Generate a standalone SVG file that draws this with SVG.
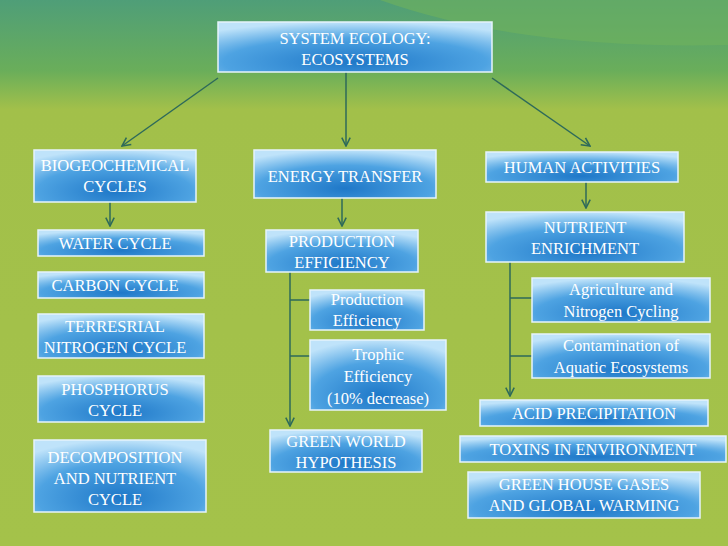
<svg xmlns="http://www.w3.org/2000/svg" width="728" height="546" viewBox="0 0 728 546">
<defs>
<linearGradient id="bg" x1="0" y1="0" x2="0" y2="1">
<stop offset="0" stop-color="#4f9e78"/><stop offset="0.13" stop-color="#6aae5a"/><stop offset="0.2" stop-color="#a2c04a"/><stop offset="1" stop-color="#a4c24a"/>
</linearGradient>
<radialGradient id="bx" cx="0.5" cy="0.8" r="0.8">
<stop offset="0" stop-color="#1f78c8"/><stop offset="0.6" stop-color="#4ea3e2"/><stop offset="1" stop-color="#bfe3fa"/>
</radialGradient>
<marker id="ar" viewBox="0 0 10 10" refX="9" refY="5" markerWidth="7" markerHeight="7" orient="auto"><path d="M1,1 L9,5 L1,9" fill="none" stroke="#2e6a5a" stroke-width="1.5"/></marker>
<style>
.b{fill:url(#bx);stroke:#e6f4fb;stroke-width:1.5}
text{font-family:"Liberation Serif",serif;fill:#fff;font-size:16.5px;text-anchor:middle}
.c{fill:none;stroke:#2e6a5a;stroke-width:1.5}
</style>
</defs>
<rect width="728" height="546" fill="url(#bg)"/>
<path d="M380,0 Q520,50 728,45 L728,0 Z" fill="#6fb25c" opacity="0.6"/>
<g id="connectors">
<path class="c" d="M218,78 L122,146" marker-end="url(#ar)"/>
<path class="c" d="M346,72 V146" marker-end="url(#ar)"/>
<path class="c" d="M492,78 L590,146" marker-end="url(#ar)"/>
<path class="c" d="M110,202 V226" marker-end="url(#ar)"/>
<path class="c" d="M342,198 V226" marker-end="url(#ar)"/>
<path class="c" d="M586,182 V208" marker-end="url(#ar)"/>
<path class="c" d="M290,272 V426" marker-end="url(#ar)"/>
<path class="c" d="M290,300 H310 M290,356 H310"/>
<path class="c" d="M510,262 V396" marker-end="url(#ar)"/>
<path class="c" d="M510,298 H532 M510,356 H532"/>
</g>
<g id="n0"><rect class="b" x="218" y="22" width="274" height="50"/><text x="355" y="44">SYSTEM ECOLOGY:</text><text x="355" y="65">ECOSYSTEMS</text></g>
<g id="n1"><rect class="b" x="34" y="150" width="162" height="52"/><text x="115" y="171">BIOGEOCHEMICAL</text><text x="115" y="192">CYCLES</text></g>
<g id="n2"><rect class="b" x="254" y="150" width="182" height="48"/><text x="345" y="182">ENERGY TRANSFER</text></g>
<g id="n3"><rect class="b" x="486" y="152" width="192" height="30"/><text x="582" y="173">HUMAN ACTIVITIES</text></g>
<g id="n4"><rect class="b" x="38" y="230" width="166" height="26"/><text x="115" y="249">WATER CYCLE</text></g>
<g id="n5"><rect class="b" x="38" y="272" width="166" height="26"/><text x="115" y="291">CARBON CYCLE</text></g>
<g id="n6"><rect class="b" x="38" y="314" width="166" height="44"/><text x="115" y="332">TERRESRIAL</text><text x="115" y="353">NITROGEN CYCLE</text></g>
<g id="n7"><rect class="b" x="38" y="376" width="166" height="46"/><text x="115" y="395">PHOSPHORUS</text><text x="115" y="416">CYCLE</text></g>
<g id="n8"><rect class="b" x="34" y="440" width="172" height="72"/><text x="115" y="463">DECOMPOSITION</text><text x="115" y="484">AND NUTRIENT</text><text x="115" y="505">CYCLE</text></g>
<g id="n9"><rect class="b" x="266" y="230" width="152" height="42"/><text x="342" y="247">PRODUCTION</text><text x="342" y="268">EFFICIENCY</text></g>
<g id="n10"><rect class="b" x="310" y="290" width="114" height="40"/><text x="367" y="305">Production</text><text x="367" y="326">Efficiency</text></g>
<g id="n11"><rect class="b" x="310" y="340" width="136" height="70"/><text x="378" y="360">Trophic</text><text x="378" y="382">Efficiency</text><text x="378" y="404">(10% decrease)</text></g>
<g id="n12"><rect class="b" x="270" y="430" width="152" height="42"/><text x="346" y="447">GREEN WORLD</text><text x="346" y="468">HYPOTHESIS</text></g>
<g id="n13"><rect class="b" x="486" y="212" width="198" height="50"/><text x="585" y="233">NUTRIENT</text><text x="585" y="254">ENRICHMENT</text></g>
<g id="n14"><rect class="b" x="532" y="278" width="178" height="44"/><text x="621" y="295">Agriculture and</text><text x="621" y="317">Nitrogen Cycling</text></g>
<g id="n15"><rect class="b" x="532" y="334" width="178" height="44"/><text x="621" y="351">Contamination of</text><text x="621" y="373">Aquatic Ecosystems</text></g>
<g id="n16"><rect class="b" x="480" y="400" width="228" height="26"/><text x="594" y="419">ACID PRECIPITATION</text></g>
<g id="n17"><rect class="b" x="460" y="436" width="266" height="26"/><text x="593" y="455">TOXINS IN ENVIRONMENT</text></g>
<g id="n18"><rect class="b" x="468" y="472" width="232" height="46"/><text x="584" y="490">GREEN HOUSE GASES</text><text x="584" y="511">AND GLOBAL WARMING</text></g>
</svg>
